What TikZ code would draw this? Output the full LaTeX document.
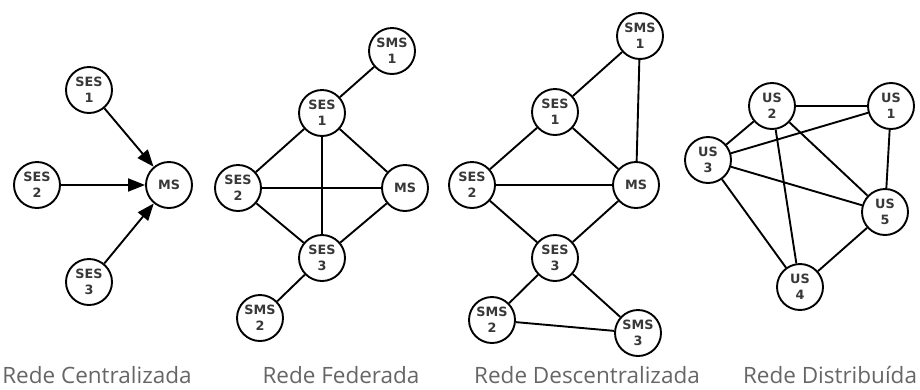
\documentclass[tikz,border=0pt]{standalone}
\usepackage{fontspec}
\setmainfont{Open Sans}
\newfontfamily\nodefont{DejaVu Sans}
\usetikzlibrary{arrows.meta}

\begin{document}
\begin{tikzpicture}[x=1pt,y=-1pt,
  srv/.style={circle, draw=black, line width=1.9pt, fill=white,
    minimum size=46pt, inner sep=0pt, align=center,
    font=\nodefont\bfseries\fontsize{12.8}{16}\selectfont, text=black!78},
  link/.style={line width=1.9pt},
  feed/.style={link, -{Triangle[length=17pt,width=13pt]}},
  caption/.style={anchor=base, inner sep=0pt,
    font=\fontsize{22.5}{27}\selectfont, text=black!60}]
\useasboundingbox (0,0) rectangle (920,389);

% --- centralised network
\node[srv] (c1) at (89,90)  {SES\\1};
\node[srv] (c2) at (37,185) {SES\\2};
\node[srv] (cm) at (169,185) {MS};
\node[srv] (c3) at (89,282) {SES\\3};
\draw[feed] (c1) -- (cm);
\draw[feed] (c2) -- (cm);
\draw[feed] (c3) -- (cm);

% --- federated network
\node[srv] (fm1) at (392,51)  {SMS\\1};
\node[srv] (f1)  at (322,113) {SES\\1};
\node[srv] (f2)  at (238,188) {SES\\2};
\node[srv] (fm)  at (405,188) {MS};
\node[srv] (f3)  at (322,258) {SES\\3};
\node[srv] (fm2) at (260,318) {SMS\\2};
\draw[link] (fm1) -- (f1);
\draw[link] (f1) -- (f2);
\draw[link] (f1) -- (fm);
\draw[link] (f1) -- (f3);
\draw[link] (f2) -- (fm);
\draw[link] (f2) -- (f3);
\draw[link] (fm) -- (f3);
\draw[link] (f3) -- (fm2);

% --- decentralised network
\node[srv] (dm1) at (640,36)  {SMS\\1};
\node[srv] (d1)  at (555,112) {SES\\1};
\node[srv] (d2)  at (472,185) {SES\\2};
\node[srv] (dm)  at (636,185) {MS};
\node[srv] (d3)  at (555,258) {SES\\3};
\node[srv] (dm2) at (492,320) {SMS\\2};
\node[srv] (dm3) at (638,333) {SMS\\3};
\draw[link] (dm1) -- (d1);
\draw[link] (dm1) -- (dm);
\draw[link] (d1) -- (d2);
\draw[link] (d1) -- (dm);
\draw[link] (d2) -- (dm);
\draw[link] (d2) -- (d3);
\draw[link] (dm) -- (d3);
\draw[link] (d3) -- (dm2);
\draw[link] (d3) -- (dm3);
\draw[link] (dm2) -- (dm3);

% --- distributed network
\node[srv] (u1) at (891,106) {US\\1};
\node[srv] (u2) at (772,106) {US\\2};
\node[srv] (u3) at (708,160) {US\\3};
\node[srv] (u4) at (800,287) {US\\4};
\node[srv] (u5) at (885,212) {US\\5};
\draw[link] (u2) -- (u1);
\draw[link] (u2) -- (u3);
\draw[link] (u2) -- (u4);
\draw[link] (u2) -- (u5);
\draw[link] (u3) -- (u1);
\draw[link] (u3) -- (u5);
\draw[link] (u3) -- (u4);
\draw[link] (u1) -- (u5);
\draw[link] (u5) -- (u4);

% --- captions
\node[caption] (t1) at (97,383)  {Rede Centralizada};
\node[caption] (t2) at (341,383) {Rede Federada};
\node[caption] (t3) at (587,383) {Rede Descentralizada};
\node[caption] (t4) at (830,383) {Rede Distribuída};
\end{tikzpicture}
\end{document}
